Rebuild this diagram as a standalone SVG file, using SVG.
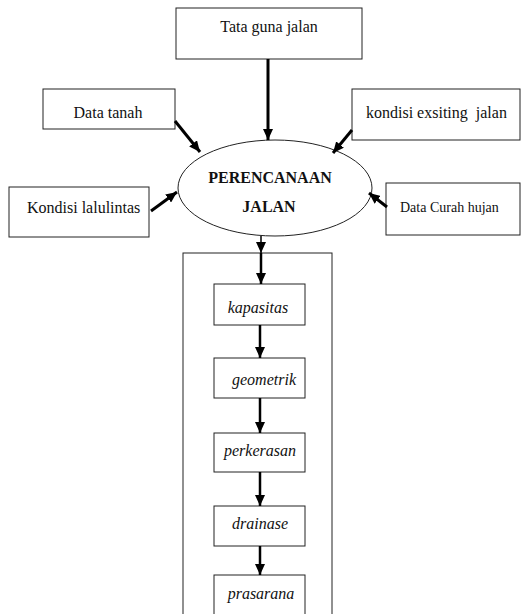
<svg xmlns="http://www.w3.org/2000/svg" width="521" height="614" viewBox="0 0 521 614">
<style>
.box{fill:#fff;stroke:#222;stroke-width:1}
.t{font-family:"Liberation Serif","Times New Roman",serif;font-size:16px;fill:#111}
.b{font-weight:bold}
.i{font-style:italic}
.c{text-anchor:middle}
.ln{stroke:#000;fill:none}
</style>
<defs>
<marker id="ah" markerUnits="userSpaceOnUse" markerWidth="12" markerHeight="10" refX="11" refY="5" orient="auto">
<path d="M0,0 L11,5 L0,10 z" fill="#000"/>
</marker>
</defs>
<rect width="521" height="614" fill="#fff"/>
<g id="container"><rect class="box" x="183" y="253" width="149" height="400"/></g>
<g id="n-tata"><rect class="box" x="176" y="8" width="186" height="51"/><text class="t c" x="269" y="32">Tata guna jalan</text></g>
<g id="n-tanah"><rect class="box" x="43" y="89" width="132" height="40"/><text class="t c" x="108" y="118">Data tanah</text></g>
<g id="n-exsiting"><rect class="box" x="352" y="89" width="168" height="51"/><text class="t" x="366" y="118" xml:space="preserve">kondisi exsiting  jalan</text></g>
<g id="n-lalulintas"><rect class="box" x="9" y="187" width="140" height="50"/><text class="t" x="27" y="213">Kondisi lalulintas</text></g>
<g id="n-curah"><rect class="box" x="386" y="183" width="134" height="52"/><text class="t" x="400" y="212" style="font-size:14px">Data Curah hujan</text></g>
<g id="n-perencanaan"><ellipse cx="275" cy="188" rx="97" ry="48" fill="#fff" stroke="#222" stroke-width="1"/><text class="t b c" x="270" y="183">PERENCANAAN</text><text class="t b c" x="269" y="212">JALAN</text></g>
<g id="n-kapasitas"><rect class="box" x="214" y="284" width="91" height="41"/><text class="t i c" x="258" y="313">kapasitas</text></g>
<g id="n-geometrik"><rect class="box" x="214" y="358" width="91" height="40"/><text class="t i c" x="264" y="385">geometrik</text></g>
<g id="n-perkerasan"><rect class="box" x="214" y="433" width="91" height="39"/><text class="t i c" x="260" y="456">perkerasan</text></g>
<g id="n-drainase"><rect class="box" x="214" y="506" width="91" height="40"/><text class="t i c" x="260" y="529">drainase</text></g>
<g id="n-prasarana"><rect class="box" x="214" y="575" width="91" height="60"/><text class="t i c" x="261" y="599">prasarana</text></g>
<g id="connectors">
<line class="ln" x1="268" y1="59" x2="268" y2="140" stroke-width="3" marker-end="url(#ah)"/>
<line class="ln" x1="175" y1="121" x2="200" y2="152" stroke-width="3" marker-end="url(#ah)"/>
<line class="ln" x1="352" y1="130" x2="333" y2="153" stroke-width="3" marker-end="url(#ah)"/>
<line class="ln" x1="151" y1="211" x2="177" y2="192" stroke-width="3" marker-end="url(#ah)"/>
<line class="ln" x1="387" y1="207" x2="369" y2="193" stroke-width="3" marker-end="url(#ah)"/>
<line class="ln" x1="261" y1="236" x2="261" y2="253" stroke-width="1.5" marker-end="url(#ah)"/>
<line class="ln" x1="261" y1="253" x2="261" y2="284" stroke-width="2.5" marker-end="url(#ah)"/>
<line class="ln" x1="260" y1="325" x2="260" y2="358" stroke-width="2.5" marker-end="url(#ah)"/>
<line class="ln" x1="260" y1="398" x2="260" y2="433" stroke-width="2.5" marker-end="url(#ah)"/>
<line class="ln" x1="260" y1="472" x2="260" y2="506" stroke-width="2.5" marker-end="url(#ah)"/>
<line class="ln" x1="260" y1="546" x2="260" y2="575" stroke-width="2.5" marker-end="url(#ah)"/>
</g>
</svg>
